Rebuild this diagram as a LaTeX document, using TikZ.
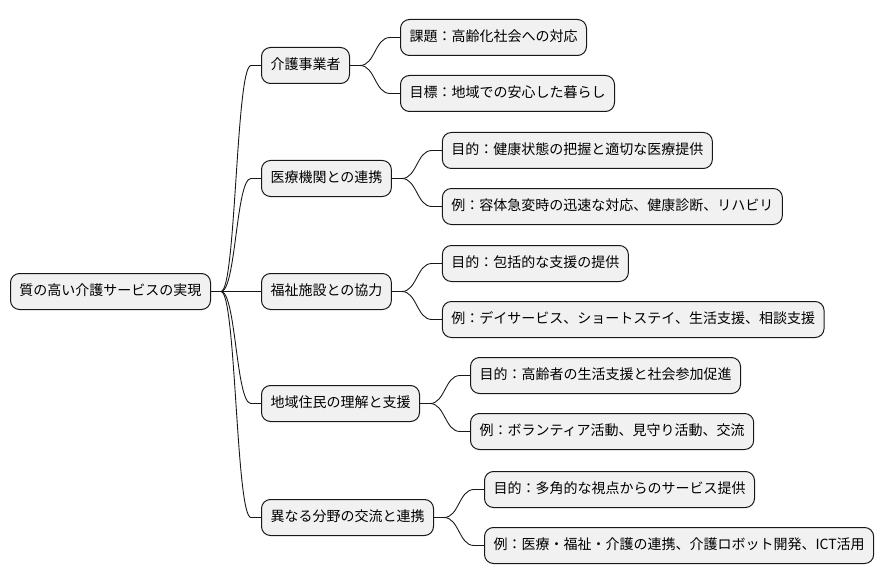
\documentclass[tikz,border=0pt]{standalone}
\usepackage{fontspec}
\setmainfont{Noto Sans CJK JP}
\usepackage{tikz}
\usepackage{xcolor}
\usetikzlibrary{positioning, calc}
\definecolor{cFill}{RGB}{241,241,241}
\definecolor{cLine}{RGB}{24,24,24}
\tikzset{
	topic/.style={rectangle, rounded corners=9pt, draw=cLine, line width=1pt, fill=cFill, minimum height=36pt, inner xsep=9pt, text height=11pt, text depth=3pt, font=\fontsize{14pt}{17pt}\selectfont},
	edge/.style ={draw=cLine, line width=0.9pt},
}
\newcommand{\branch}[2]{%
	\draw[edge] (#1.east) -- ++(10,0) .. controls +(15,0) and +(-15,0) .. ($(#2.west)+(-10,0)$) -- (#2.west);}

\begin{document}
\begin{tikzpicture}[x=1pt, y=-1pt]
					\useasboundingbox (0,0) rectangle (889,583);
					\node[topic, anchor=west] (root) at (10,291.5) {質の高い介護サービスの実現};
					% branch 1: care providers
					\node[topic, right=50pt of root.east, yshift=226pt] (prov) {介護事業者};
					\node[topic, right=50pt of prov.east, yshift=28pt] (provA) {課題：高齢化社会への対応};
					\node[topic, right=50pt of prov.east, yshift=-28pt] (provB) {目標：地域での安心した暮らし};
					% branch 2: medical
					\node[topic, right=50pt of root.east, yshift=113pt] (med) {医療機関との連携};
					\node[topic, right=50pt of med.east, yshift=28pt] (medA) {目的：健康状態の把握と適切な医療提供};
					\node[topic, right=50pt of med.east, yshift=-28pt] (medB) {例：容体急変時の迅速な対応、健康診断、リハビリ};
					% branch 3: welfare
					\node[topic, right=50pt of root.east] (wel) {福祉施設との協力};
					\node[topic, right=50pt of wel.east, yshift=28pt] (welA) {目的：包括的な支援の提供};
					\node[topic, right=50pt of wel.east, yshift=-28pt] (welB) {例：デイサービス、ショートステイ、生活支援、相談支援};
					% branch 4: residents
					\node[topic, right=50pt of root.east, yshift=-112pt] (res) {地域住民の理解と支援};
					\node[topic, right=50pt of res.east, yshift=28pt] (resA) {目的：高齢者の生活支援と社会参加促進};
					\node[topic, right=50pt of res.east, yshift=-28pt] (resB) {例：ボランティア活動、見守り活動、交流};
					% branch 5: cross-field
					\node[topic, right=50pt of root.east, yshift=-226pt] (mix) {異なる分野の交流と連携};
					\node[topic, right=50pt of mix.east, yshift=28pt] (mixA) {目的：多角的な視点からのサービス提供};
					\node[topic, right=50pt of mix.east, yshift=-28pt] (mixB) {例：医療・福祉・介護の連携、介護ロボット開発、ICT活用};
					% connectors
					\foreach \kid in {prov, med, wel, res, mix}{
						\branch{root}{\kid}
						\branch{\kid}{\kid A}
						\branch{\kid}{\kid B}
					}
				\end{tikzpicture}
\end{document}
